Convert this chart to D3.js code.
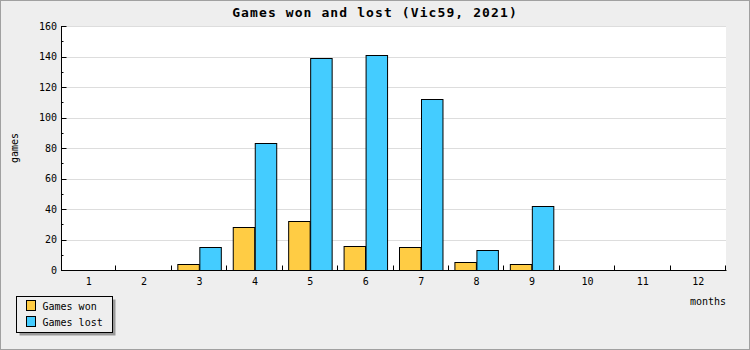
<!DOCTYPE html>
<html>
<head>
<meta charset="utf-8">
<script src="https://cdn.jsdelivr.net/npm/d3@7"></script>
<style>
  html, body { margin: 0; padding: 0; background: #fff; }
  svg { display: block; }
  text { font-family: "DejaVu Sans Mono", "Liberation Mono", monospace; fill: #000; }
</style>
</head>
<body>
<div id="chart"></div>
<script>
// chart data
const months = ['1', '2', '3', '4', '5', '6', '7', '8', '9', '10', '11', '12'];
const gamesWon = [0, 0, 4, 28, 32, 16, 15, 5, 4, 0, 0, 0];
const gamesLost = [0, 0, 15, 83, 139, 141, 112, 13, 42, 0, 0, 0];
const seriesNames = ['Games won', 'Games lost'];
const yTicks = [0, 20, 40, 60, 80, 100, 120, 140, 160];

const colors = { 'Games won': '#ffcc44', 'Games lost': '#44ccff' };

const W = 750, H = 350;
const margin = { top: 26, right: 24, bottom: 80, left: 61 };

const svg = d3.select('#chart')
  .append('svg')
    .attr('width', W)
    .attr('height', H);

// background + outer frame
svg.append('rect')
  .attr('x', 0.5).attr('y', 0.5)
  .attr('width', W - 1).attr('height', H - 1)
  .attr('fill', '#eeeeee')
  .attr('stroke', '#a0a0a0');

const x0 = d3.scaleBand()
  .domain(months)
  .range([margin.left, W - margin.right])
  .padding(0);

const x1 = d3.scaleBand()
  .domain(seriesNames)
  .range([0, x0.bandwidth()])
  .paddingInner(0)
  .paddingOuter(0.29);

const y = d3.scaleLinear()
  .domain([0, 160])
  .range([H - margin.bottom, margin.top]);

// plot area
svg.append('rect')
  .attr('x', margin.left)
  .attr('y', margin.top)
  .attr('width', W - margin.left - margin.right)
  .attr('height', H - margin.top - margin.bottom)
  .attr('fill', '#fff');

// horizontal grid
svg.append('g')
  .selectAll('line')
  .data(yTicks.filter(d => d > 0))
  .enter()
  .append('line')
    .attr('x1', margin.left)
    .attr('x2', W - margin.right)
    .attr('y1', d => Math.round(y(d)) + 0.5)
    .attr('y2', d => Math.round(y(d)) + 0.5)
    .attr('stroke', '#dddddd');

// title
svg.append('text')
  .attr('x', W / 2)
  .attr('y', 17)
  .attr('text-anchor', 'middle')
  .style('font-size', '13px')
  .style('font-weight', 'bold')
  .style('letter-spacing', '1.1px')
  .text('Games won and lost (Vic59, 2021)');

// bars
const rows = months.map((m, i) => ({ month: m, values: [gamesWon[i], gamesLost[i]] }));

const groups = svg.append('g')
  .selectAll('g')
  .data(rows)
  .enter()
  .append('g')
    .attr('transform', d => `translate(${x0(d.month) - 0.5},0)`);

groups.selectAll('rect')
  .data(d => d.values.map((v, j) => ({ key: seriesNames[j], value: v })).filter(d => d.value > 0))
  .enter()
  .append('rect')
    .attr('x', d => Math.round(x1(d.key)) + 0.5)
    .attr('y', d => Math.round(y(d.value)) + 0.5)
    .attr('width', x1.bandwidth())
    .attr('height', d => Math.round(y(0)) - Math.round(y(d.value)))
    .attr('fill', d => colors[d.key])
    .attr('stroke', '#000')
    .attr('stroke-width', 1);

// y axis (ticks inward)
const yAxis = svg.append('g')
  .attr('transform', `translate(${margin.left + 0.5},0)`)
  .call(d3.axisRight(y).tickValues(yTicks).tickSize(5).tickFormat(''));
yAxis.select('.domain').attr('d', `M0,${y(160)}V${y(0)}`);
yAxis.selectAll('.tick').attr('transform', d => `translate(0,${Math.round(y(d)) + 0.5})`);

// minor y ticks
yAxis.append('g')
  .selectAll('line')
  .data(d3.range(10, 160, 20))
  .enter()
  .append('line')
    .attr('x1', 0).attr('x2', 2)
    .attr('y1', d => Math.round(y(d)) + 0.5)
    .attr('y2', d => Math.round(y(d)) + 0.5)
    .attr('stroke', '#000');

svg.append('g')
  .selectAll('text')
  .data(yTicks)
  .enter()
  .append('text')
    .attr('x', margin.left - 4)
    .attr('y', d => y(d) + 3.5)
    .attr('text-anchor', 'end')
    .style('font-size', '10px')
    .text(d => d);

// x axis
const xAxisY = Math.round(y(0)) + 0.5;
svg.append('line')
  .attr('x1', margin.left)
  .attr('x2', W - margin.right + 0.5)
  .attr('y1', xAxisY)
  .attr('y2', xAxisY)
  .attr('stroke', '#000');

svg.append('g')
  .selectAll('line')
  .data(months.slice(1).concat(['end']))
  .enter()
  .append('line')
    .attr('x1', d => Math.round(d === 'end' ? x0.range()[1] : x0(d)) - 0.5)
    .attr('x2', d => Math.round(d === 'end' ? x0.range()[1] : x0(d)) - 0.5)
    .attr('y1', xAxisY)
    .attr('y2', xAxisY - 5)
    .attr('stroke', '#000');

svg.append('g')
  .selectAll('text')
  .data(months)
  .enter()
  .append('text')
    .attr('x', d => x0(d) + x0.bandwidth() / 2)
    .attr('y', 284.5)
    .attr('text-anchor', 'middle')
    .style('font-size', '10px')
    .text(d => d);

// axis titles
svg.append('text')
  .attr('x', W - margin.right)
  .attr('y', 304.5)
  .attr('text-anchor', 'end')
  .style('font-size', '10px')
  .text('months');

svg.append('text')
  .attr('transform', `translate(17.5,${(y(0) + y(160)) / 2}) rotate(-90)`)
  .attr('text-anchor', 'middle')
  .style('font-size', '10px')
  .text('games');

// legend
const legend = svg.append('g').attr('transform', 'translate(16,296)');
legend.append('rect')
  .attr('x', 3.5).attr('y', 3.5)
  .attr('width', 96).attr('height', 36)
  .attr('fill', '#999999');
legend.append('rect')
  .attr('x', 0.5).attr('y', 0.5)
  .attr('width', 96).attr('height', 36)
  .attr('fill', '#eeeeee')
  .attr('stroke', '#000');

const items = legend.selectAll('g.item')
  .data(seriesNames)
  .enter()
  .append('g')
    .attr('class', 'item')
    .attr('transform', (d, i) => `translate(0,${i * 16})`);

items.append('rect')
  .attr('x', 10.5).attr('y', 4.5)
  .attr('width', 9).attr('height', 10)
  .attr('fill', d => colors[d])
  .attr('stroke', '#000');

items.append('text')
  .attr('x', 26.5)
  .attr('y', 14)
  .style('font-size', '10px')
  .text(d => d);
</script>
</body>
</html>
